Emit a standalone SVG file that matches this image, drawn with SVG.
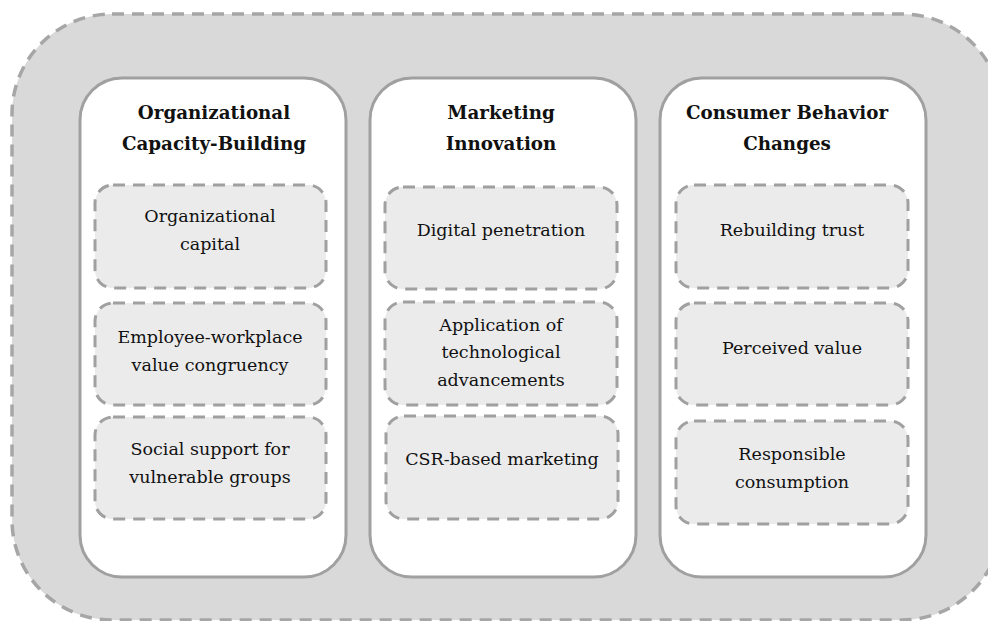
<svg xmlns="http://www.w3.org/2000/svg" width="988" height="621" viewBox="0 0 988 621">
<style>
.outer{fill:#d9d9d9;stroke:#a6a6a6;stroke-width:3.5;stroke-dasharray:12 8}
.panel{fill:#fff;stroke:#a0a0a0;stroke-width:3}
.box{fill:#ebebeb;stroke:#a0a0a0;stroke-width:3;stroke-dasharray:12 8}
.t{font-family:"DejaVu Serif","Liberation Serif",serif;font-weight:bold;font-size:18.3px;fill:#111;text-anchor:middle}
.b{font-family:"DejaVu Serif","Liberation Serif",serif;font-size:17.5px;fill:#111;text-anchor:middle}
</style>
<rect width="988" height="621" fill="#fff"/>
<rect class="outer" x="12" y="14" width="990" height="606" rx="100"/>
<g id="col1">
<rect class="panel" x="80" y="78" width="266" height="499" rx="42"/>
<text class="t" x="214" y="119">Organizational</text>
<text class="t" x="214" y="150">Capacity-Building</text>
</g>
<g id="col2">
<rect class="panel" x="370" y="78" width="266" height="499" rx="42"/>
<text class="t" x="501" y="119">Marketing</text>
<text class="t" x="501" y="150">Innovation</text>
</g>
<g id="col3">
<rect class="panel" x="660" y="78" width="266" height="499" rx="42"/>
<text class="t" x="787" y="119">Consumer Behavior</text>
<text class="t" x="787" y="150">Changes</text>
</g>
<g id="n1"><rect class="box" x="95" y="185" width="231" height="103" rx="18"/>
<text class="b" x="210" y="222">Organizational</text><text class="b" x="210" y="250">capital</text></g>
<g id="n2"><rect class="box" x="95" y="303" width="231" height="102" rx="18"/>
<text class="b" x="210" y="343">Employee-workplace</text><text class="b" x="210" y="371">value congruency</text></g>
<g id="n3"><rect class="box" x="95" y="417" width="231" height="102" rx="18"/>
<text class="b" x="210" y="455">Social support for</text><text class="b" x="210" y="483">vulnerable groups</text></g>
<g id="n4"><rect class="box" x="385" y="187" width="232" height="102" rx="18"/>
<text class="b" x="501" y="236">Digital penetration</text></g>
<g id="n5"><rect class="box" x="385" y="302" width="232" height="103" rx="18"/>
<text class="b" x="501" y="331">Application of</text><text class="b" x="501" y="358">technological</text><text class="b" x="501" y="386">advancements</text></g>
<g id="n6"><rect class="box" x="386" y="416" width="232" height="103" rx="18"/>
<text class="b" x="502" y="465">CSR-based marketing</text></g>
<g id="n7"><rect class="box" x="676" y="185" width="232" height="103" rx="18"/>
<text class="b" x="792" y="236">Rebuilding trust</text></g>
<g id="n8"><rect class="box" x="676" y="303" width="232" height="102" rx="18"/>
<text class="b" x="792" y="354">Perceived value</text></g>
<g id="n9"><rect class="box" x="676" y="421" width="232" height="103" rx="18"/>
<text class="b" x="792" y="460">Responsible</text><text class="b" x="792" y="488">consumption</text></g>
<g id="connectors"></g>
</svg>
